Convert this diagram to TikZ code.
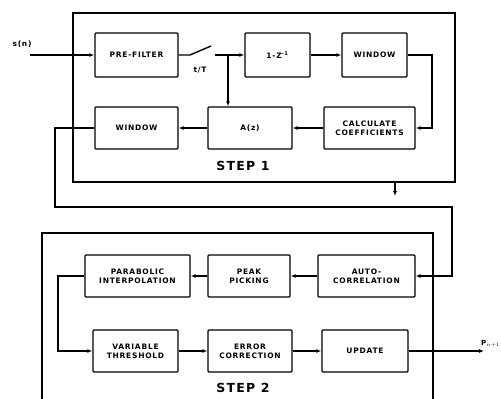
\documentclass[tikz,border=0pt]{standalone}
\usepackage{fontspec}
\setmainfont{DejaVu Sans}[LetterSpace=10]
\newfontfamily\plainsans{DejaVu Sans}
\usetikzlibrary{arrows.meta}
\tikzset{
  blk/.style={draw, line width=1.4pt, rounded corners=1pt, inner sep=0pt, align=center,
    font=\bfseries\fontsize{7.5}{9}\selectfont},
  wire/.style={line width=1.4pt},
  arr/.style={line width=1.4pt, -{Latex[length=5pt,width=4pt]}},
  frame/.style={line width=1.5pt},
  steplab/.style={font=\bfseries\fontsize{12.5}{14}\selectfont},
  sig/.style={font=\bfseries\fontsize{7.5}{8}\selectfont, inner sep=0.5pt}
}
\begin{document}
\begin{tikzpicture}[x=1pt,y=-1pt]
\useasboundingbox (0,0) rectangle (501,399);
\clip (0,0) rectangle (501,399);
% frames
\draw[frame] (73,13) rectangle (455,182);
\draw[frame] (42,410) -- (42,233) -- (433,233) -- (433,410);
\node[steplab] (st1) at (243,166) {STEP 1};
\node[steplab] (st2) at (243,388) {STEP 2};
% step 1 blocks
\node[blk, minimum width=83pt, minimum height=44pt] (pf) at (136.5,55) {PRE-FILTER};
\node[blk, minimum width=65pt, minimum height=44pt] (oz) at (277.5,55) {1-Z\textsuperscript{-1}};
\node[blk, minimum width=65pt, minimum height=44pt] (w1) at (374.5,55) {WINDOW};
\node[blk, minimum width=91pt, minimum height=42pt] (cc) at (369.5,128) {CALCULATE\\COEFFICIENTS};
\node[blk, minimum width=84pt, minimum height=42pt] (az) at (250,128) {A(z)};
\node[blk, minimum width=83pt, minimum height=42pt] (w2) at (136.5,128) {WINDOW};
% step 2 blocks
\node[blk, minimum width=105pt, minimum height=42pt] (pi) at (137.5,276) {PARABOLIC\\INTERPOLATION};
\node[blk, minimum width=82pt, minimum height=42pt] (pp) at (249,276) {PEAK\\PICKING};
\node[blk, minimum width=97pt, minimum height=42pt] (ac) at (366.5,276) {AUTO-\\CORRELATION};
\node[blk, minimum width=85pt, minimum height=42pt] (vt) at (135.5,351) {VARIABLE\\THRESHOLD};
\node[blk, minimum width=84pt, minimum height=42pt] (ec) at (250,351) {ERROR\\CORRECTION};
\node[blk, minimum width=86pt, minimum height=42pt] (up) at (365,351) {UPDATE};
% input
\node[sig] (sn) at (22,44) {s(n)};
\coordinate (in) at (30,55);
\draw[arr] (in) -- (pf.west);
% switch
\coordinate (s1) at (190,55);
\coordinate (s2) at (211,46);
\coordinate (s3) at (215,55);
\coordinate (j) at (228,55);
\node[sig] (tt) at (200,70) {t/T};
\draw[wire] (pf.east) -- (s1) -- (s2);
\draw[arr] (s3) -- (oz.west);
\draw[arr] (j) -- (j |- az.north);
\draw[arr] (oz.east) -- (w1.west);
\coordinate (r1) at (432,55);
\draw[arr] (w1.east) -- (r1) -- (r1 |- cc.east) -- (cc.east);
\draw[arr] (cc.west) -- (az.east);
\draw[arr] (az.west) -- (w2.west -| w2.east);
% feedback to step 2
\coordinate (f1) at (55,128);
\coordinate (f2) at (55,207);
\coordinate (f3) at (452,207);
\draw[arr] (w2.west) -- (f1) -- (f2) -- (f3) -- (f3 |- ac.east) -- (ac.east);
% small arrow below step 1
\coordinate (d1) at (395,182);
\coordinate (d2) at (395,196);
\draw[arr] (d1) -- (d2);
% step 2 flow
\draw[arr] (ac.west) -- (pp.east);
\draw[arr] (pp.west) -- (pi.east);
\coordinate (g1) at (58,276);
\draw[arr] (pi.west) -- (g1) -- (g1 |- vt.west) -- (vt.west);
\draw[arr] (vt.east) -- (ec.west);
\draw[arr] (ec.east) -- (up.west);
\coordinate (out) at (484,351);
\draw[arr] (up.east) -- (out);
\node[font=\plainsans\bfseries\fontsize{7}{8}\selectfont, inner sep=0.5pt, anchor=east] (pn) at (500.5,344) {P$_{n+1}$};
\end{tikzpicture}
\end{document}
